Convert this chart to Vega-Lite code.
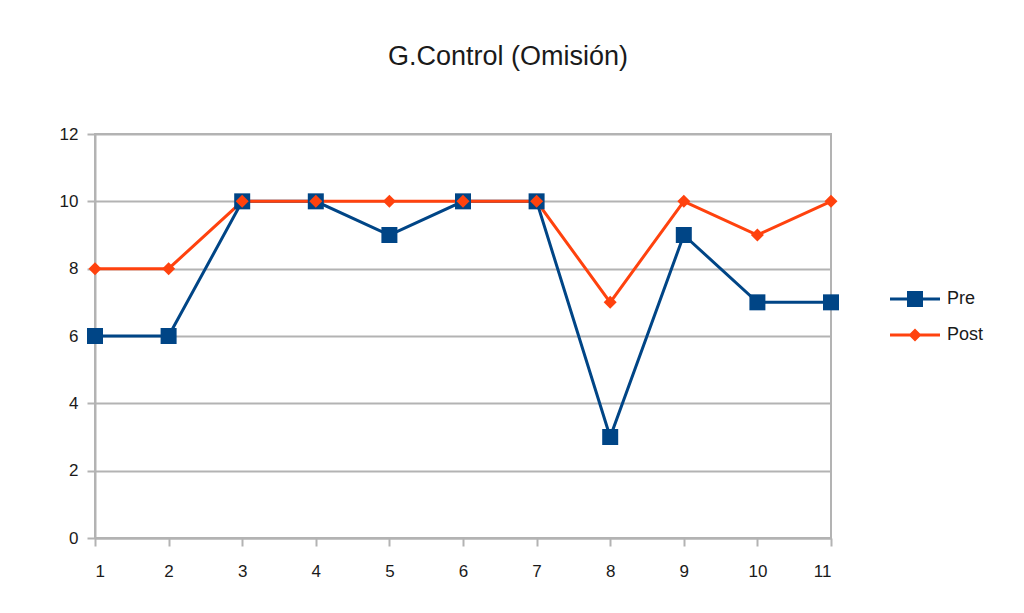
{
  "$schema": "https://vega.github.io/schema/vega-lite/v6.json",
  "width": 736,
  "height": 404,
  "autosize": {"type": "none"},
  "padding": {"left": 95, "top": 134, "right": 193, "bottom": 75},
  "background": "white",
  "title": {
    "text": "G.Control (Omisión)",
    "font": "Liberation Sans",
    "fontSize": 27,
    "fontWeight": "normal",
    "color": "#1a1a1a",
    "anchor": "middle",
    "dx": 45,
    "offset": 54
  },
  "config": {
    "view": {"stroke": "#b3b3b3", "strokeWidth": 2},
    "axis": {
      "labelFont": "Liberation Sans",
      "labelFontSize": 17,
      "labelColor": "#1a1a1a",
      "domainColor": "#b3b3b3",
      "domainWidth": 2,
      "tickColor": "#b3b3b3",
      "tickWidth": 2,
      "tickSize": 8,
      "gridColor": "#b3b3b3",
      "gridWidth": 2,
      "title": null
    }
  },
  "data": {
    "values": [
      {"x": 1, "serie": "Pre", "v": 6},
      {"x": 2, "serie": "Pre", "v": 6},
      {"x": 3, "serie": "Pre", "v": 10},
      {"x": 4, "serie": "Pre", "v": 10},
      {"x": 5, "serie": "Pre", "v": 9},
      {"x": 6, "serie": "Pre", "v": 10},
      {"x": 7, "serie": "Pre", "v": 10},
      {"x": 8, "serie": "Pre", "v": 3},
      {"x": 9, "serie": "Pre", "v": 9},
      {"x": 10, "serie": "Pre", "v": 7},
      {"x": 11, "serie": "Pre", "v": 7},
      {"x": 1, "serie": "Post", "v": 8},
      {"x": 2, "serie": "Post", "v": 8},
      {"x": 3, "serie": "Post", "v": 10},
      {"x": 4, "serie": "Post", "v": 10},
      {"x": 5, "serie": "Post", "v": 10},
      {"x": 6, "serie": "Post", "v": 10},
      {"x": 7, "serie": "Post", "v": 10},
      {"x": 8, "serie": "Post", "v": 7},
      {"x": 9, "serie": "Post", "v": 10},
      {"x": 10, "serie": "Post", "v": 9},
      {"x": 11, "serie": "Post", "v": 10}
    ]
  },
  "encoding": {
    "x": {
      "field": "x",
      "type": "quantitative",
      "scale": {"domain": [1, 11], "nice": false, "zero": false},
      "axis": {"values": [1, 2, 3, 4, 5, 6, 7, 8, 9, 10, 11], "grid": false, "labelPadding": 17, "format": "d"}
    },
    "y": {
      "field": "v",
      "type": "quantitative",
      "scale": {"domain": [0, 12], "nice": false},
      "axis": {"values": [0, 2, 4, 6, 8, 10, 12], "labelPadding": 9, "format": "d"}
    },
    "color": {
      "field": "serie",
      "type": "nominal",
      "scale": {"domain": ["Pre", "Post"], "range": ["#004586", "#ff420e"]},
      "legend": null
    }
  },
  "layer": [
    {
      "mark": {"type": "line", "strokeWidth": 3},
      "encoding": {
        "color": {
          "field": "serie",
          "type": "nominal",
          "scale": {"domain": ["Pre", "Post"], "range": ["#004586", "#ff420e"]},
          "legend": {
            "title": null,
            "orient": "none",
            "legendX": 810,
            "legendY": 155,
            "symbolSize": 400,
            "symbolStrokeWidth": 0,
            "labelFont": "Liberation Sans",
            "labelFontSize": 18,
            "labelColor": "#1a1a1a",
            "labelOffset": 22,
            "rowPadding": 17,
            "encode": {
              "symbols": {
                "update": {
                  "shape": {"signal": "datum.value === 'Pre' ? 'M-2.5,-0.15 L2.5,-0.15 L2.5,0.15 L-2.5,0.15 Z M-0.8,-0.8 L0.8,-0.8 L0.8,0.8 L-0.8,0.8 Z' : 'M-2.5,-0.15 L2.5,-0.15 L2.5,0.15 L-2.5,0.15 Z M-0.65,0 L0,-0.65 L0.65,0 L0,0.65 Z'"},
                  "fill": {"signal": "datum.value === 'Pre' ? '#004586' : '#ff420e'"},
                  "fillOpacity": {"value": 1},
                  "strokeWidth": {"value": 0}
                }
              }
            }
          }
        }
      }
    },
    {
      "transform": [{"filter": "datum.serie === 'Pre'"}],
      "mark": {"type": "point", "filled": true, "opacity": 1, "shape": "square", "size": 256}
    },
    {
      "transform": [{"filter": "datum.serie === 'Post'"}],
      "mark": {"type": "point", "filled": true, "opacity": 1, "shape": "diamond", "size": 169}
    }
  ]
}
